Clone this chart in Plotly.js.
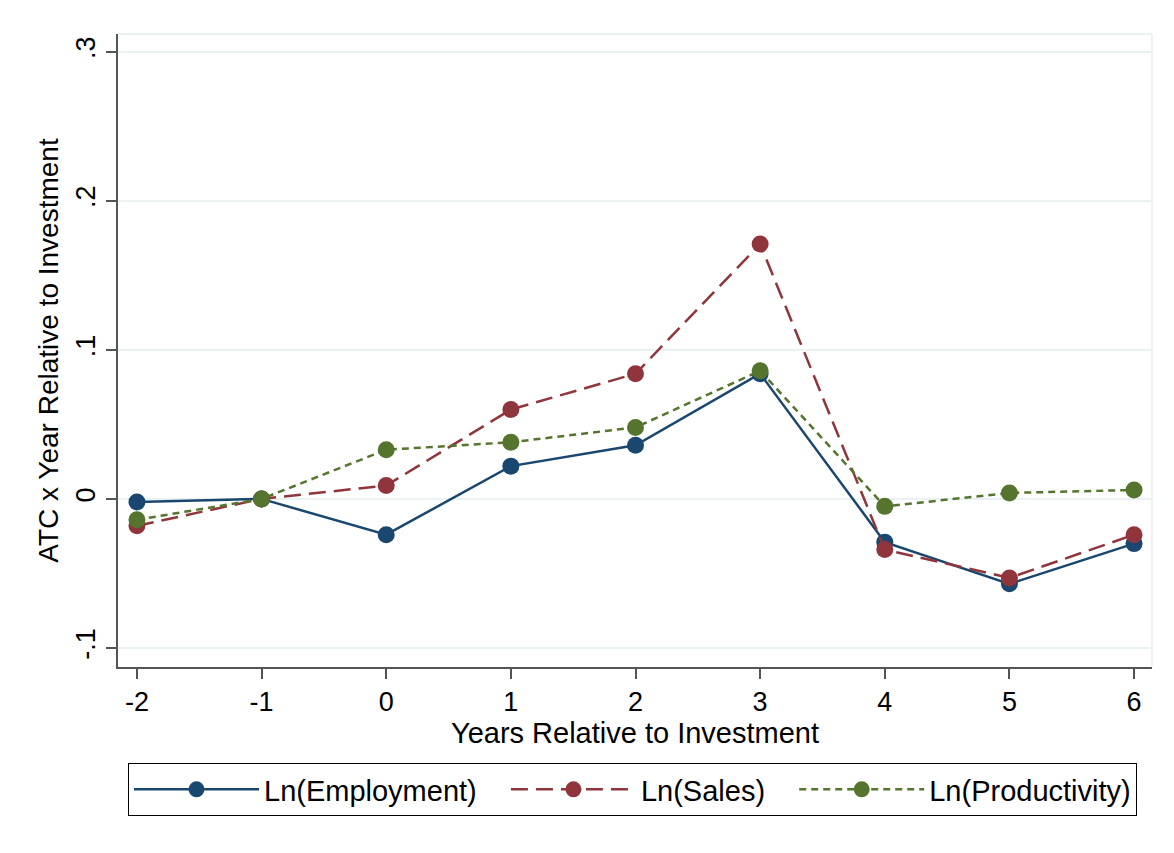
<!DOCTYPE html>
<html>
<head>
<meta charset="utf-8">
<script src="https://cdn.plot.ly/plotly-3.0.1.min.js"></script>
<style>html,body{margin:0;padding:0;background:#fff;}#chart{width:1174px;height:853px;}</style>
</head>
<body>
<div id="chart"></div>
<script>
const years = [-2, -1, 0, 1, 2, 3, 4, 5, 6];
const employment = [-0.002, 0, -0.024, 0.022, 0.036, 0.084, -0.029, -0.057, -0.030];
const sales = [-0.018, 0, 0.009, 0.060, 0.084, 0.171, -0.034, -0.053, -0.024];
const productivity = [-0.014, 0, 0.033, 0.038, 0.048, 0.086, -0.005, 0.004, 0.006];
const seriesNames = ['Ln(Employment)', 'Ln(Sales)', 'Ln(Productivity)'];
const yTickVals = [-0.1, 0, 0.1, 0.2, 0.3];
const yTickText = ['-.1', '0', '.1', '.2', '.3'];
const xTickVals = [-2, -1, 0, 1, 2, 3, 4, 5, 6];

const FONT = 'Liberation Sans, Arial, sans-serif';
const navy = '#1a476f', maroon = '#90353b', green = '#55752f';
const pad = '\u00a0\u00a0\u00a0';

const traces = [
  {x: years, y: employment, name: seriesNames[0] + pad, mode: 'lines+markers',
   line: {color: navy, width: 2.5}, marker: {color: navy, size: 17}},
  {x: years, y: sales, name: seriesNames[1] + pad, mode: 'lines+markers',
   line: {color: maroon, width: 2.5, dash: '17px,8px'}, marker: {color: maroon, size: 17}},
  {x: years, y: productivity, name: seriesNames[2], mode: 'lines+markers',
   line: {color: green, width: 2.5, dash: '7px,5px'}, marker: {color: green, size: 17}}
];

const layout = {
  width: 1174, height: 853,
  paper_bgcolor: '#ffffff', plot_bgcolor: '#ffffff',
  margin: {l: 118, r: 22, t: 34, b: 186},
  font: {family: FONT, size: 27, color: '#000'},
  showlegend: true,
  xaxis: {
    range: [-2.152, 6.144], tickvals: xTickVals, ticktext: xTickVals.map(String),
    showgrid: false, zeroline: false, showline: true, linecolor: '#555', linewidth: 2,
    ticks: 'outside', ticklen: 10, tickwidth: 2, tickcolor: '#555',
    tickfont: {family: FONT, size: 27, color: '#000'},
    title: {text: 'Years Relative to Investment', font: {family: FONT, size: 29, color: '#000'}, standoff: 2}
  },
  yaxis: {
    range: [-0.1128, 0.312], tickvals: yTickVals, ticktext: yTickText, tickangle: -90,
    showgrid: true, gridcolor: '#eaf2f3', gridwidth: 2, zeroline: false,
    showline: true, linecolor: '#555', linewidth: 2,
    ticks: 'outside', ticklen: 10, tickwidth: 2, tickcolor: '#555',
    tickfont: {family: FONT, size: 27, color: '#000'},
    title: {text: 'ATC x Year Relative to Investment', font: {family: FONT, size: 28, color: '#000'}, standoff: 4}
  },
  legend: {
    orientation: 'h', xref: 'container', yref: 'container',
    x: 128/1174, y: 1 - 763/853, xanchor: 'left', yanchor: 'top',
    bordercolor: '#000', borderwidth: 1, bgcolor: '#fff',
    font: {family: FONT, size: 29, color: '#000'},
    itemwidth: 125
  },
  shapes: [
    {type: 'line', xref: 'paper', yref: 'paper', x0: 0, x1: 1, y0: 1, y1: 1, line: {color: '#eaf2f3', width: 2}},
    {type: 'line', xref: 'paper', yref: 'paper', x0: 1, x1: 1, y0: 0, y1: 1, line: {color: '#eaf2f3', width: 2}}
  ]
};

Plotly.newPlot('chart', traces, layout, {displayModeBar: false, staticPlot: true});
</script>
</body>
</html>
